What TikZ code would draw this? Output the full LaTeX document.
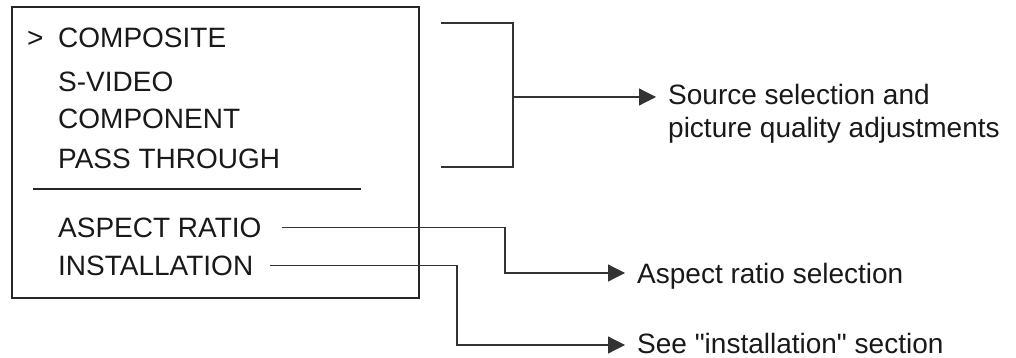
\documentclass[tikz,border=0pt]{standalone}
\usepackage{fontspec}
\setmainfont{Liberation Sans}
\usetikzlibrary{arrows.meta}
\usetikzlibrary{calc}

\begin{document}
\begin{tikzpicture}[x=1pt, y=-1pt,
		every node/.style={font=\fontsize{28}{33}\selectfont, text=black!90},
		item/.style={anchor=base west, inner sep=0pt},
		note/.style={anchor=base west, inner sep=0pt, inner xsep=12pt},
		menubox/.style={rectangle, draw=black!85, line width=2.2pt, minimum width=407pt, minimum height=291pt, inner sep=0pt},
		rule/.style={line width=2.2pt, black!85},
		link/.style={line width=1.2pt, black!80},
		arrow/.style={link, -{Triangle[length=17pt, width=17pt]}}]
		
		\useasboundingbox (0, 0) rectangle (1016, 358);
		
		\node[menubox] (menu) at (215.5, 152.5) {};
		
		\node[item] (cursor) at (27, 48) {>};
		\node[item] (composite) at (58, 48) {COMPOSITE};
		\node[item] (svideo) at (58, 92) {S-VIDEO};
		\node[item] (component) at (58, 129) {COMPONENT};
		\node[item] (passthru) at (58, 168) {PASS THROUGH};
		
		\coordinate (sepL) at (33, 189);
		\coordinate (sepR) at (361, 189);
		\draw[rule] (sepL) -- (sepR);
		
		\node[item] (aspect) at (58, 237) {ASPECT RATIO};
		\node[item] (install) at (58, 275) {INSTALLATION};
		
		\node[note, anchor=west, align=left, inner ysep=0pt] (source) at (656, 114) {Source selection and\\picture quality adjustments};
		\node[note] (aspsel) at (625, 283) {Aspect ratio selection};
		\node[note] (instsel) at (625, 353) {See \textquotedbl installation\textquotedbl{} section};
		
		\coordinate (brtop) at (441, 23);
		\coordinate (brbot) at (441, 167);
		\coordinate (brmid) at (513, 97);
		\draw[link] (brtop) -| (brmid) |- (brbot);
		\draw[arrow] (brmid) -- (brmid -| source.west);
		
		\coordinate (kneeA) at (505, 273);
		\draw[arrow] ([xshift=20pt]aspect.east) -| (kneeA) -- (kneeA -| aspsel.west);
		
		\coordinate (kneeI) at (457, 345);
		\draw[arrow] ([xshift=17pt]install.east) -| (kneeI) -- (kneeI -| instsel.west);
		
	\end{tikzpicture}
\end{document}
